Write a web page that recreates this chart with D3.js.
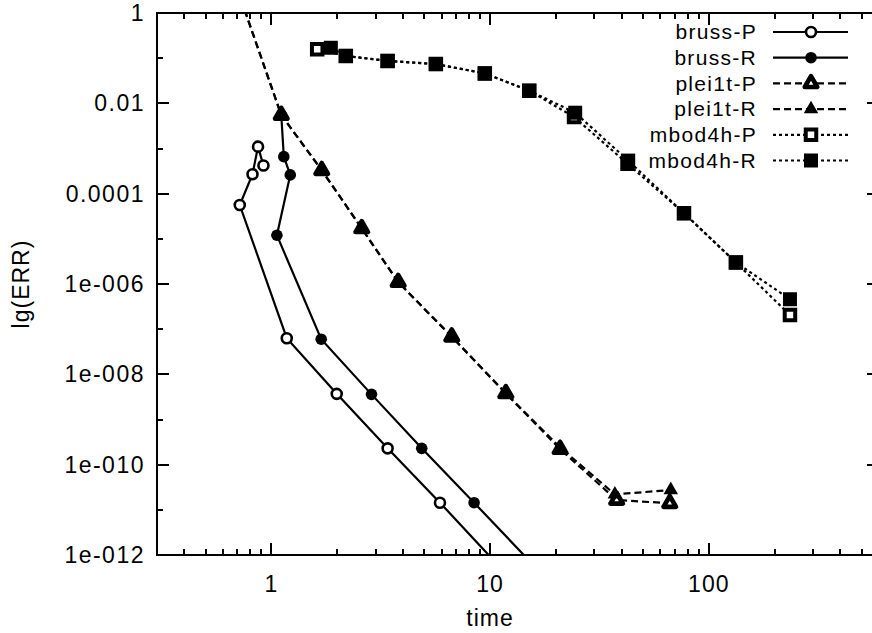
<!DOCTYPE html>
<html>
<head>
<meta charset="utf-8">
<script src="https://cdn.jsdelivr.net/npm/d3@7"></script>
<style>
  html, body { margin: 0; padding: 0; background: #fff; }
  svg { display: block; }
  text { font-family: "Liberation Sans", Arial, Helvetica, sans-serif; fill: #000; }
</style>
</head>
<body>
<svg id="chart" width="872" height="633"></svg>
<script>
// ---------------- data ----------------
const seriesNames = ["bruss-P", "bruss-R", "plei1t-P", "plei1t-R", "mbod4h-P", "mbod4h-R"];

const brussP_time = [0.92, 0.869, 0.82, 0.717, 1.176, 1.99, 3.4, 5.9, 17.2];
const brussP_err  = [4.2e-4, 1.1e-3, 2.7e-4, 5.6e-5, 6.3e-8, 3.7e-9, 2.3e-10, 1.44e-11, 5.5e-14];

const brussR_time = [1.11, 1.14, 1.22, 1.06, 1.69, 2.87, 4.87, 8.45, 25.2];
const brussR_err  = [5.5e-3, 6.6e-4, 2.6e-4, 1.2e-5, 6.0e-8, 3.6e-9, 2.3e-10, 1.44e-11, 5.5e-14];

const plei1tP_time = [0.7, 1.11, 1.70, 2.59, 3.8, 6.68, 11.8, 20.9, 37.9, 66.3];
const plei1tP_err  = [3.3, 5.5e-3, 3.3e-4, 1.7e-5, 1.1e-6, 6.8e-8, 3.8e-9, 2.2e-10, 1.65e-11, 1.4e-11];

const plei1tR_time = [0.7, 1.11, 1.70, 2.59, 3.8, 6.68, 11.8, 20.9, 37.2, 67.0];
const plei1tR_err  = [3.3, 5.5e-3, 3.3e-4, 1.7e-5, 1.1e-6, 6.8e-8, 3.8e-9, 2.4e-10, 2.2e-11, 2.75e-11];

const mbod4hP_time = [1.62, 2.19, 3.4, 5.65, 9.46, 15.1, 24.2, 42.5, 77, 133, 235];
const mbod4hP_err  = [0.157, 0.112, 0.087, 0.074, 0.046, 0.019, 5.0e-3, 4.6e-4, 3.7e-5, 3.0e-6, 2.06e-7];

const mbod4hR_time = [1.87, 2.19, 3.4, 5.65, 9.46, 15.1, 24.5, 42.8, 77, 133, 235];
const mbod4hR_err  = [0.17, 0.112, 0.087, 0.074, 0.046, 0.019, 6.2e-3, 5.4e-4, 3.7e-5, 3.0e-6, 4.6e-7];

const xTickValues = [1, 10, 100];
const xTickLabels = ["1", "10", "100"];
const yTickValues = [1, 1e-2, 1e-4, 1e-6, 1e-8, 1e-10, 1e-12];
const yTickLabels = ["1", "0.01", "0.0001", "1e-006", "1e-008", "1e-010", "1e-012"];
const xLabel = "time";
const yLabel = "lg(ERR)";

// ---------------- layout ----------------
const svg = d3.select("#chart");
const L = 157, R = 879, T = 13, B = 555;
const x = d3.scaleLog().domain([0.3, 600]).range([L, R]);
const y = d3.scaleLog().domain([1e-12, 1]).range([B, T]);

const styles = {
  "bruss-P":  {dash: null,  marker: "circleOpen"},
  "bruss-R":  {dash: null,  marker: "circleFilled"},
  "plei1t-P": {dash: "7,4", marker: "triOpen"},
  "plei1t-R": {dash: "7,4", marker: "triFilled"},
  "mbod4h-P": {dash: "3,3", marker: "sqOpen"},
  "mbod4h-R": {dash: "3,3", marker: "sqFilled"}
};

const series = [
  {name: "bruss-P",  t: brussP_time,  e: brussP_err},
  {name: "bruss-R",  t: brussR_time,  e: brussR_err},
  {name: "plei1t-P", t: plei1tP_time, e: plei1tP_err},
  {name: "plei1t-R", t: plei1tR_time, e: plei1tR_err},
  {name: "mbod4h-P", t: mbod4hP_time, e: mbod4hP_err},
  {name: "mbod4h-R", t: mbod4hR_time, e: mbod4hR_err}
].map(s => ({name: s.name, pts: s.t.map((v, i) => ({t: v, e: s.e[i]}))}));

function drawMarker(g, type, cx, cy) {
  const sq = (s) => d3.symbol().type(d3.symbolSquare).size(s * s)();
  const tri = (w) => d3.symbol().type(d3.symbolTriangle).size(0.433 * w * w)();
  switch (type) {
    case "circleOpen":
      g.append("circle").attr("cx", cx).attr("cy", cy).attr("r", 5)
        .attr("fill", "#fff").attr("stroke", "#000").attr("stroke-width", 2.6); break;
    case "circleFilled":
      g.append("circle").attr("cx", cx).attr("cy", cy).attr("r", 5.8).attr("fill", "#000"); break;
    case "triOpen":
      g.append("path").attr("d", tri(12.5)).attr("transform", `translate(${cx},${cy})`)
        .attr("fill", "#fff").attr("stroke", "#000").attr("stroke-width", 4.6).attr("stroke-linejoin", "round"); break;
    case "triFilled":
      g.append("path").attr("d", tri(14.5)).attr("transform", `translate(${cx},${cy})`).attr("fill", "#000"); break;
    case "sqOpen":
      g.append("path").attr("d", sq(10.5)).attr("transform", `translate(${cx},${cy})`)
        .attr("fill", "#fff").attr("stroke", "#000").attr("stroke-width", 4); break;
    case "sqFilled":
      g.append("path").attr("d", sq(14)).attr("transform", `translate(${cx},${cy})`).attr("fill", "#000"); break;
  }
}

// ---------------- clip ----------------
svg.append("defs").append("clipPath").attr("id", "plotclip")
  .append("rect").attr("x", L).attr("y", T).attr("width", R - L).attr("height", B - T);

// ---------------- axes / border ----------------
const axes = svg.append("g").attr("stroke", "#000").attr("stroke-width", 2).attr("shape-rendering", "crispEdges");
axes.append("rect").attr("x", L).attr("y", T).attr("width", R - L).attr("height", B - T).attr("fill", "none");

const xMinor = [];
[0.1, 1, 10, 100].forEach(d => { for (let k = 2; k <= 9; k++) { const v = d * k; if (v >= 0.3 && v <= 600) xMinor.push(v); } });
xMinor.forEach(v => {
  const px = x(v);
  axes.append("line").attr("x1", px).attr("x2", px).attr("y1", B).attr("y2", B - 6);
  axes.append("line").attr("x1", px).attr("x2", px).attr("y1", T).attr("y2", T + 6);
});
xTickValues.forEach(v => {
  const px = x(v);
  axes.append("line").attr("x1", px).attr("x2", px).attr("y1", B).attr("y2", B - 12);
  axes.append("line").attr("x1", px).attr("x2", px).attr("y1", T).attr("y2", T + 12);
});
const yMinor = [1e-1, 1e-3, 1e-5, 1e-7, 1e-9, 1e-11];
yMinor.forEach(v => {
  const py = y(v);
  axes.append("line").attr("x1", L).attr("x2", L + 6).attr("y1", py).attr("y2", py);
  axes.append("line").attr("x1", R).attr("x2", R - 6).attr("y1", py).attr("y2", py);
});
yTickValues.forEach(v => {
  const py = y(v);
  axes.append("line").attr("x1", L).attr("x2", L + 12).attr("y1", py).attr("y2", py);
  axes.append("line").attr("x1", R).attr("x2", R - 12).attr("y1", py).attr("y2", py);
});

// tick labels
const fs = 23;
svg.append("g").selectAll("text").data(xTickValues).join("text")
  .attr("x", d => x(d)).attr("y", 584).attr("dy", "0.35em")
  .attr("text-anchor", "middle").attr("font-size", fs).attr("letter-spacing", 1)
  .text((d, i) => xTickLabels[i]);
svg.append("g").selectAll("text").data(yTickValues).join("text")
  .attr("x", 145).attr("y", d => y(d)).attr("dy", "0.35em")
  .attr("text-anchor", "end").attr("font-size", fs).attr("letter-spacing", 1.5)
  .text((d, i) => yTickLabels[i]);

svg.append("text").attr("x", 490).attr("y", 618).attr("dy", "0.35em")
  .attr("text-anchor", "middle").attr("font-size", fs).attr("letter-spacing", 1).text(xLabel);
svg.append("text").attr("transform", "translate(21,284) rotate(-90)").attr("dy", "0.35em")
  .attr("text-anchor", "middle").attr("font-size", fs).attr("letter-spacing", 1).text(yLabel);

// ---------------- data ----------------
const plot = svg.append("g").attr("clip-path", "url(#plotclip)");
const line = d3.line().x(d => x(d.t)).y(d => y(d.e));
series.forEach(s => {
  const st = styles[s.name];
  plot.append("path").datum(s.pts).attr("d", line)
    .attr("fill", "none").attr("stroke", "#000").attr("stroke-width", 2.2)
    .attr("stroke-dasharray", st.dash);
});
series.forEach(s => {
  const st = styles[s.name];
  const g = plot.append("g");
  s.pts.forEach(p => drawMarker(g, st.marker, x(p.t), y(p.e)));
});

// ---------------- legend ----------------
const leg = svg.append("g");
seriesNames.forEach((name, i) => {
  const cy = 32 + i * 25.7;
  const st = styles[name];
  leg.append("text").attr("x", 757).attr("y", cy).attr("dy", "0.35em")
    .attr("text-anchor", "end").attr("font-size", 21).attr("letter-spacing", 1.3).text(name);
  leg.append("line").attr("x1", 773).attr("x2", 848).attr("y1", cy).attr("y2", cy)
    .attr("stroke", "#000").attr("stroke-width", 2.2).attr("stroke-dasharray", st.dash);
  drawMarker(leg, st.marker, 811, cy);
});
</script>
</body>
</html>
